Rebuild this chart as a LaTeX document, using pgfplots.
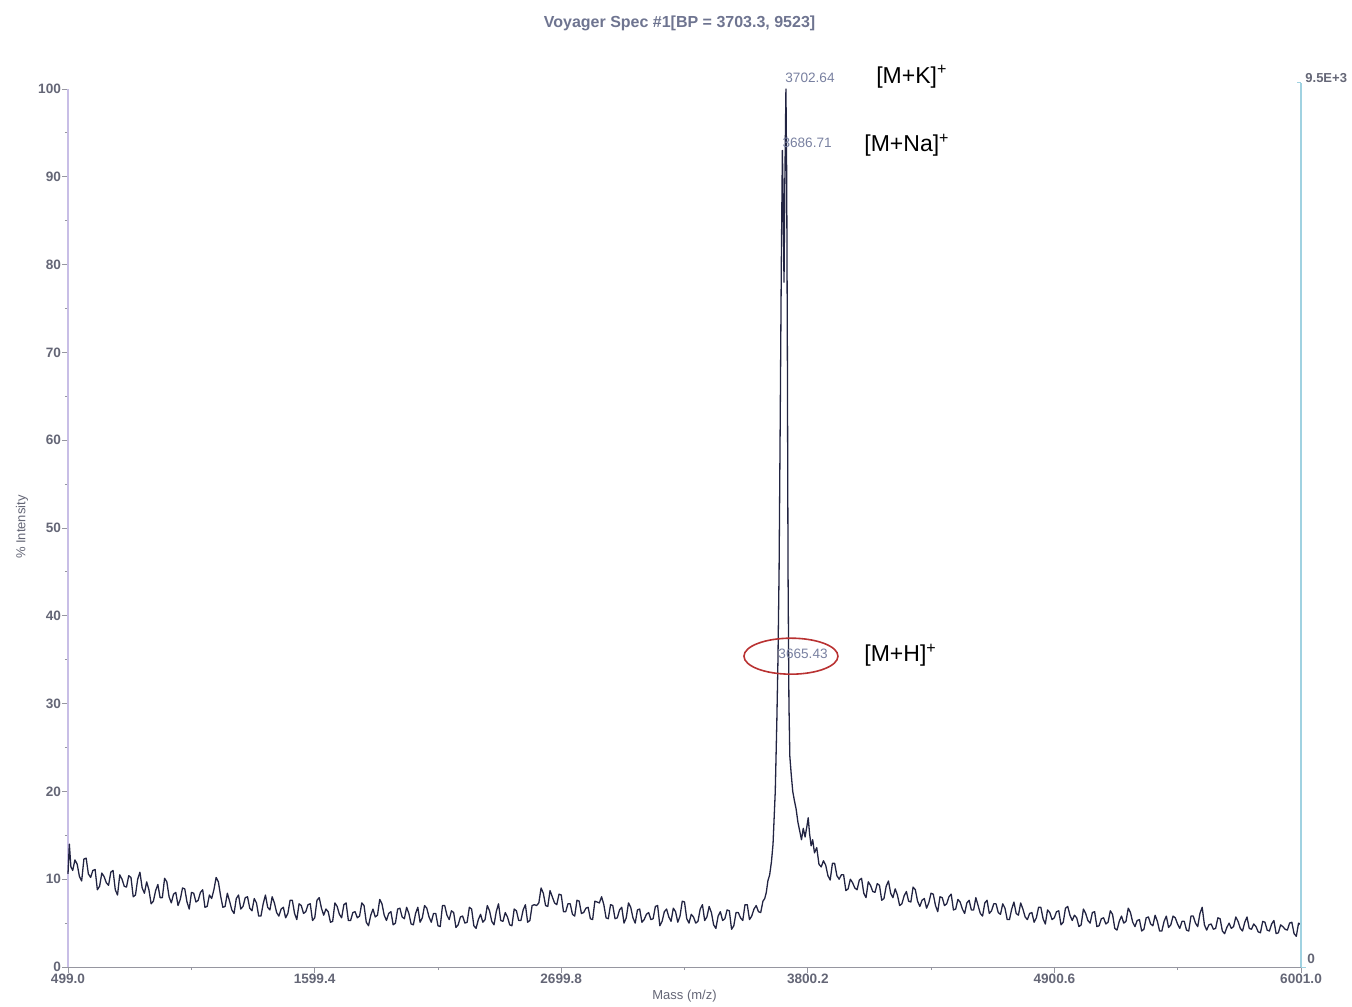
\documentclass[border=0pt]{standalone}
\usepackage{pgfplots}
\pgfplotsset{compat=1.18}
\usepackage{pgfplotstable}
\usepackage{fontspec}
\setmainfont{Liberation Sans}
\definecolor{trace}{RGB}{34,36,66}
\definecolor{ticklab}{RGB}{100,102,118}
\definecolor{titlec}{RGB}{110,116,144}
\definecolor{peaklab}{RGB}{120,128,160}
\definecolor{yaxc}{RGB}{200,190,230}
\definecolor{xaxc}{RGB}{150,150,160}
\definecolor{raxc}{RGB}{160,210,225}
\definecolor{ellc}{RGB}{185,50,50}

\pgfplotstableread{
x y
499 10.6
505 14.0
512 11.4
520 11.0
530 12.2
540 11.7
550 10.3
560 9.8
570 12.3
580 12.4
590 10.6
600 10.2
610 11.0
620 11.1
630 8.8
640 9.2
650 10.7
660 10.3
670 9.6
680 9.3
690 10.8
700 11.0
710 8.8
720 8.2
730 10.5
740 10.0
750 9.2
760 9.1
770 10.4
780 10.2
790 8.0
800 8.2
810 10.0
820 10.8
830 9.0
840 8.4
850 9.7
860 8.8
870 7.2
880 7.5
890 8.7
900 9.4
910 7.9
920 7.9
930 10.1
940 9.7
950 8.0
960 7.3
970 8.3
980 8.5
990 7.0
1000 7.7
1010 9.0
1020 8.9
1030 7.4
1040 6.6
1050 8.5
1060 8.4
1070 7.4
1080 7.6
1090 8.5
1100 8.8
1110 6.8
1120 6.9
1130 8.2
1140 7.8
1150 8.8
1160 10.2
1170 9.7
1180 8.1
1190 6.8
1200 6.9
1210 8.4
1220 7.5
1230 6.5
1240 6.1
1250 7.8
1260 8.2
1270 6.6
1280 6.9
1290 7.9
1300 8.0
1310 6.7
1320 6.4
1330 7.8
1340 7.3
1350 5.8
1360 5.8
1370 7.2
1380 8.2
1390 6.8
1400 6.5
1410 8.0
1420 7.3
1430 6.2
1440 5.8
1450 6.6
1460 6.8
1470 5.6
1480 6.1
1490 7.6
1500 7.6
1510 6.1
1520 5.4
1530 7.2
1540 7.0
1550 6.1
1560 6.3
1570 7.1
1580 7.2
1590 5.3
1600 5.6
1610 7.6
1620 7.9
1630 6.7
1640 5.9
1650 6.6
1660 6.3
1670 5.1
1680 5.2
1690 7.3
1700 6.9
1710 6.0
1720 5.6
1730 7.1
1740 7.3
1750 5.3
1760 5.3
1770 6.2
1780 6.3
1790 5.6
1800 5.8
1810 7.3
1820 7.0
1830 5.1
1840 4.7
1850 5.9
1860 6.6
1870 5.7
1880 5.9
1890 7.7
1900 7.2
1910 5.9
1920 5.3
1930 6.1
1940 6.3
1950 4.8
1960 5.0
1970 6.6
1980 6.7
1990 5.7
2000 5.5
2010 6.8
2020 6.1
2030 4.9
2040 4.8
2050 6.1
2060 6.8
2070 5.1
2080 5.6
2090 7.0
2100 6.7
2110 5.7
2120 5.1
2130 6.1
2140 6.1
2150 4.7
2160 4.6
2170 7.0
2180 7.0
2190 5.9
2200 5.4
2210 6.4
2220 6.2
2230 4.5
2240 4.8
2250 5.7
2260 5.8
2270 5.0
2280 5.1
2290 6.8
2300 6.6
2310 4.7
2320 4.4
2330 5.4
2340 6.0
2350 5.1
2360 5.4
2370 7.0
2380 6.4
2390 5.2
2400 4.8
2410 6.3
2420 7.2
2430 5.3
2440 5.2
2450 6.2
2460 5.7
2470 4.8
2480 4.7
2490 6.6
2500 6.4
2510 5.3
2520 5.3
2530 6.5
2540 7.1
2550 5.1
2560 5.3
2570 7.0
2580 7.1
2590 7.0
2600 7.3
2610 9.0
2620 8.4
2630 7.0
2640 6.9
2650 8.7
2660 8.0
2670 7.3
2680 7.1
2690 8.3
2700 8.2
2710 6.3
2720 6.3
2730 7.2
2740 7.2
2750 6.0
2760 5.8
2770 7.6
2780 7.5
2790 6.1
2800 6.2
2810 6.7
2820 6.8
2830 5.5
2840 5.4
2850 7.5
2860 7.4
2870 7.3
2880 8.0
2890 7.1
2900 5.6
2910 5.5
2920 7.1
2930 7.0
2940 5.5
2950 5.6
2960 6.5
2970 6.8
2980 5.0
2990 5.6
3000 7.3
3010 6.8
3020 5.6
3030 5.0
3040 6.5
3050 6.6
3060 5.1
3070 5.4
3080 6.0
3090 6.2
3100 5.4
3110 5.5
3120 6.9
3130 7.0
3140 4.7
3150 5.2
3160 6.3
3170 6.6
3180 5.7
3190 5.2
3200 6.7
3210 6.3
3220 5.1
3230 5.8
3240 7.5
3250 7.4
3260 5.5
3270 5.0
3280 6.0
3290 5.7
3300 5.0
3310 5.2
3320 6.6
3330 7.1
3340 5.3
3350 5.7
3360 6.9
3370 6.2
3380 4.8
3390 4.4
3400 5.8
3410 6.3
3420 5.3
3430 5.5
3440 6.5
3450 6.4
3460 4.3
3470 4.7
3480 6.2
3490 6.2
3500 5.6
3510 5.3
3520 7.1
3530 7.1
3540 5.4
3550 5.8
3560 6.6
3570 7.0
3580 6.3
3590 6.2
3600 7.5
3608 7.8
3615 8.5
3622 9.8
3630 10.5
3638 12.0
3645 14
3655 20
3662 28
3667 35
3672 45
3677 62
3682 80
3686.7 93
3690 88
3694 78
3698 90
3702.6 100
3706 90
3709 70
3712 45
3716 30
3720 24
3726 22
3733 20
3740 19
3748 18
3756 16.5
3764 15.5
3772 14.5
3780 15.8
3788 14.8
3796 16.0
3802 17.0
3808 15.2
3815 13.8
3822 14.5
3830 13.0
3840 13.6
3850 11.7
3860 11.4
3870 12.1
3880 11.6
3890 10.4
3900 9.9
3910 11.8
3920 11.8
3930 10.4
3940 10.0
3950 10.5
3960 10.5
3970 8.7
3980 8.9
3990 10.0
4000 9.6
4010 9.0
4020 8.8
4030 9.9
4040 10.1
4050 8.4
4060 7.9
4070 9.7
4080 9.3
4090 8.6
4100 8.5
4110 9.5
4120 9.3
4130 7.6
4140 7.8
4150 9.2
4160 9.8
4170 8.4
4180 7.9
4190 8.9
4200 8.2
4210 7.0
4220 7.2
4230 8.1
4240 8.6
4250 7.5
4260 7.4
4270 9.1
4280 8.8
4290 7.5
4300 6.9
4310 7.6
4320 7.8
4330 6.7
4340 7.3
4350 8.4
4360 8.3
4370 7.0
4380 6.3
4390 8.0
4400 7.9
4410 7.0
4420 7.2
4430 8.0
4440 8.3
4450 6.5
4460 6.6
4470 7.7
4480 7.4
4490 6.6
4500 6.1
4510 7.3
4520 7.6
4530 6.5
4540 6.5
4550 7.9
4560 7.0
4570 6.1
4580 5.8
4590 7.3
4600 7.6
4610 6.1
4620 6.4
4630 7.2
4640 7.2
4650 6.2
4660 6.0
4670 7.2
4680 6.7
4690 5.4
4700 5.4
4710 6.6
4720 7.4
4730 6.1
4740 5.9
4750 7.3
4760 6.6
4770 5.7
4780 5.4
4790 6.1
4800 6.2
4810 5.1
4820 5.6
4830 6.8
4840 6.8
4850 5.5
4860 4.9
4870 6.5
4880 6.2
4890 5.4
4900 5.6
4910 6.3
4920 6.4
4930 4.8
4940 5.1
4950 6.7
4960 6.9
4970 5.9
4980 5.3
4990 5.9
5000 5.6
5010 4.6
5020 4.8
5030 6.6
5040 6.1
5050 5.3
5060 5.0
5070 6.2
5080 6.3
5090 4.6
5100 4.7
5110 5.5
5120 5.6
5130 4.9
5140 5.1
5150 6.4
5160 6.0
5170 4.4
5180 4.2
5190 5.2
5200 5.8
5210 5.0
5220 5.2
5230 6.7
5240 6.2
5250 5.1
5260 4.6
5270 5.3
5280 5.4
5290 4.1
5300 4.3
5310 5.6
5320 5.7
5330 4.9
5340 4.7
5350 5.9
5360 5.2
5370 4.1
5380 4.1
5390 5.2
5400 5.8
5410 4.5
5420 4.8
5430 5.8
5440 5.6
5450 4.9
5460 4.4
5470 5.2
5480 5.2
5490 4.2
5500 4.1
5510 5.8
5520 5.8
5530 5.0
5540 4.6
5550 6.1
5560 6.8
5570 4.8
5580 4.2
5590 4.8
5600 4.9
5610 4.3
5620 4.4
5630 5.6
5640 5.5
5650 4.1
5660 3.8
5670 4.5
5680 5.0
5690 4.4
5700 4.6
5710 5.7
5720 5.2
5730 4.4
5740 4.1
5750 5.1
5760 5.7
5770 4.4
5780 4.3
5790 4.9
5800 4.6
5810 4.0
5820 3.9
5830 5.2
5840 5.1
5850 4.2
5860 4.1
5870 4.9
5880 5.3
5890 3.8
5900 3.9
5910 4.8
5920 4.6
5930 4.3
5940 4.2
5950 5.0
5960 5.1
5970 3.8
5980 3.5
5990 5.0
6001 4.8
}\spectrum

\begin{document}
\begin{tikzpicture}
\begin{axis}[
  scale only axis,
  width=616.5pt, height=439pt,
  xmin=499, xmax=6001, ymin=0, ymax=100,
  axis x line*=bottom, axis y line*=left,
  x axis line style={draw=xaxc, line width=0.5pt, -},
  y axis line style={draw=yaxc, line width=0.6pt, -},
  xtick={499,1599.4,2699.8,3800.2,4900.6,6001},
  xticklabels={499.0,1599.4,2699.8,3800.2,4900.6,6001.0},
  ytick={0,10,...,100},
  minor x tick num=1, minor y tick num=1,
  tick align=outside,
  major tick length=3pt, minor tick length=1.5pt,
  tick style={draw=xaxc, line width=0.4pt},
  /pgf/number format/assume math mode=true,
  ticklabel style={font=\fontsize{6.8}{8}\selectfont\bfseries, text=ticklab},
  xticklabel style={yshift=3pt},
  yticklabel style={xshift=3pt},
  clip=false,
]
\addplot[trace, line width=0.65pt, line join=round] table[x=x,y=y] {\spectrum};

% right axis
\draw[raxc, line width=0.6pt] (rel axis cs:1,0) -- (rel axis cs:1,1.007);
\draw[raxc, line width=0.5pt] ([xshift=-2pt]rel axis cs:1,1.007) -- (rel axis cs:1,1.007);
\draw[raxc, line width=0.5pt] (rel axis cs:1,0) -- ([xshift=2.5pt]rel axis cs:1,0);
\node[anchor=south west, inner sep=0pt, font=\fontsize{6.5}{8}\selectfont\bfseries, text=ticklab] at ([xshift=2pt]rel axis cs:1,1.007) {9.5E+3};
\node[anchor=south west, inner sep=0pt, font=\fontsize{6.8}{8}\selectfont\bfseries, text=ticklab] at ([xshift=3pt,yshift=1.5pt]rel axis cs:1,0) {0};

% peak labels
\node[font=\fontsize{6.8}{8}\selectfont, text=peaklab, inner sep=0pt] at (axis cs:3810,101.25) {3702.64};
\node[font=\fontsize{6.8}{8}\selectfont, text=peaklab, inner sep=0pt] at (axis cs:3797,93.85) {3686.71};
\node[font=\fontsize{6.8}{8}\selectfont, text=peaklab, inner sep=0pt] at (axis cs:3779,35.65) {3665.43};
\draw[ellc, line width=0.8pt] (axis cs:3725,35.4) ellipse [x radius=23.5pt, y radius=9pt];

% annotations
\node[anchor=west, inner sep=0pt, font=\fontsize{11.5}{13}\selectfont] at (axis cs:4104,101.4) {[M+K]\textsuperscript{+}};
\node[anchor=west, inner sep=0pt, font=\fontsize{11.5}{13}\selectfont] at (axis cs:4051,93.6) {[M+Na]\textsuperscript{+}};
\node[anchor=west, inner sep=0pt, font=\fontsize{11.5}{13}\selectfont] at (axis cs:4051,35.5) {[M+H]\textsuperscript{+}};

% title and axis labels
\node[font=\fontsize{8}{10}\selectfont\bfseries, text=titlec] at ([yshift=33pt]rel axis cs:0.496,1) {Voyager Spec \#1[BP = 3703.3, 9523]};
\node[rotate=90, font=\fontsize{6.5}{8}\selectfont, text=ticklab] at ([xshift=-23pt]rel axis cs:0,0.501) {\% Intensity};
\node[font=\fontsize{6.5}{8}\selectfont, text=ticklab] at ([yshift=-14.5pt]rel axis cs:0.5,0) {Mass (m/z)};
\end{axis}
\pgfresetboundingbox
\path ([xshift=-34pt,yshift=-19.5pt]current axis.south west) rectangle ([xshift=25.5pt,yshift=44.5pt]current axis.north east);
\end{tikzpicture}
\end{document}
